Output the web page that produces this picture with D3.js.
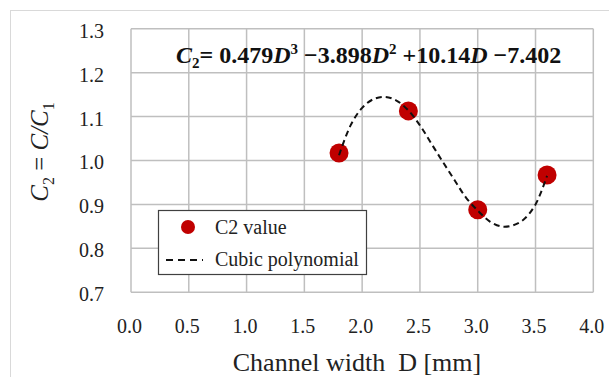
<!DOCTYPE html>
<html>
<head>
<meta charset="utf-8">
<script src="https://cdn.jsdelivr.net/npm/d3@7"></script>
<style>
  body { margin: 0; background: #fff; }
  svg, text { font-family: "Liberation Serif", "DejaVu Serif", serif; }
</style>
</head>
<body>
<svg width="609" height="377"></svg>
<script>
// measured C2 values
var widthD = [1.8, 2.4, 3.0, 3.6]
var c2Values = [1.017, 1.113, 0.888, 0.967]

// dashed fit curve
var fitD = [1.8, 1.9, 2.0, 2.1, 2.2, 2.3, 2.4, 2.5, 2.6, 2.7, 2.8, 2.9, 3.0, 3.1, 3.2, 3.3, 3.4, 3.5, 3.6]
var fitC2 = [1.012, 1.080, 1.120, 1.140, 1.145, 1.136, 1.114, 1.080, 1.038, 0.996, 0.955, 0.915, 0.886, 0.862, 0.850, 0.852, 0.866, 0.900, 0.965]

var xTicks = [0, 0.5, 1.0, 1.5, 2.0, 2.5, 3.0, 3.5, 4.0]
var yTicks = [0.7, 0.8, 0.9, 1.0, 1.1, 1.2, 1.3]
var legendLabels = ["C2 value", "Cubic polynomial"]

var svg = d3.select("svg")

// outer frame
svg.append("rect")
  .attr("x", 10.5).attr("y", 10.5)
  .attr("width", 620).attr("height", 400)
  .attr("fill", "none")
  .attr("stroke", "#d9d9d9")

var x = d3.scaleLinear().domain([0, 4]).range([131, 593.3])
var y = d3.scaleLinear().domain([0.7, 1.3]).range([292.2, 28.8])

// grid
svg.append("g")
  .selectAll("line")
  .data(xTicks)
  .enter()
  .append("line")
    .attr("x1", function(d){ return x(d) })
    .attr("x2", function(d){ return x(d) })
    .attr("y1", y(0.7)).attr("y2", y(1.3))
    .attr("stroke", "#bfbfbf")
    .attr("stroke-width", 1.5)

svg.append("g")
  .selectAll("line")
  .data(yTicks)
  .enter()
  .append("line")
    .attr("x1", x(0)).attr("x2", x(4))
    .attr("y1", function(d){ return y(d) })
    .attr("y2", function(d){ return y(d) })
    .attr("stroke", "#bfbfbf")
    .attr("stroke-width", 1.5)

// axes (labels only)
var yAxis = svg.append("g")
  .attr("transform", "translate(" + x(0) + ",0)")
  .call(d3.axisLeft(y).tickValues(yTicks).tickFormat(d3.format(".1f")).tickSize(0).tickPadding(27))
yAxis.attr("font-family", null).attr("font-size", null)
yAxis.select(".domain").remove()
yAxis.selectAll("text")
  .attr("dy", "0.42em")
  .style("font-size", "20px")
  .attr("fill", "#222")

var xAxis = svg.append("g")
  .attr("transform", "translate(-2," + y(0.7) + ")")
  .call(d3.axisBottom(x).tickValues(xTicks).tickFormat(d3.format(".1f")).tickSize(0).tickPadding(27))
xAxis.attr("font-family", null).attr("font-size", null)
xAxis.select(".domain").remove()
xAxis.selectAll("text")
  .style("font-size", "20px")
  .attr("fill", "#222")

// axis titles
svg.append("text")
  .attr("x", 357)
  .attr("y", 371)
  .attr("text-anchor", "middle")
  .style("font-size", "26px")
  .attr("fill", "#222")
  .text("Channel width\u00a0 D [mm]")

var yTitle = svg.append("text")
  .attr("transform", "translate(48,152) rotate(-90)")
  .attr("text-anchor", "middle")
  .style("font-size", "25px")
  .attr("fill", "#222")
yTitle.append("tspan").style("font-style", "italic").text("C")
yTitle.append("tspan").attr("dy", 6).style("font-size", "16px").text("2")
yTitle.append("tspan").attr("dy", -6).text(" = ")
yTitle.append("tspan").style("font-style", "italic").text("C/C")
yTitle.append("tspan").attr("dy", 6).style("font-size", "16px").text("1")

// fit curve
var line = d3.line()
  .x(function(d){ return x(d[0]) })
  .y(function(d){ return y(d[1]) })
  .curve(d3.curveCatmullRom)

// points
svg.append("g")
  .selectAll("circle")
  .data(d3.zip(widthD, c2Values))
  .enter()
  .append("circle")
    .attr("cx", function(d){ return x(d[0]) })
    .attr("cy", function(d){ return y(d[1]) })
    .attr("r", 9.5)
    .attr("fill", "#c00000")

// curve drawn over the points
svg.append("path")
  .datum(d3.zip(fitD, fitC2))
  .attr("d", line)
  .attr("fill", "none")
  .attr("stroke", "#111")
  .attr("stroke-width", 2)
  .style("stroke-dasharray", "6,4")

// equation
var eq = svg.append("text")
  .attr("x", 176)
  .attr("y", 63)
  .style("font-size", "24px")
  .style("font-weight", "bold")
  .attr("fill", "#111")
eq.append("tspan").style("font-style", "italic").text("C")
eq.append("tspan").attr("dy", 5).style("font-size", "15px").text("2")
eq.append("tspan").attr("dy", -5).text("= 0.479")
eq.append("tspan").style("font-style", "italic").text("D")
eq.append("tspan").attr("dy", -9).style("font-size", "15px").text("3")
eq.append("tspan").attr("dy", 9).text(" \u22123.898")
eq.append("tspan").style("font-style", "italic").text("D")
eq.append("tspan").attr("dy", -9).style("font-size", "15px").text("2")
eq.append("tspan").attr("dy", 9).text(" +10.14")
eq.append("tspan").style("font-style", "italic").text("D")
eq.append("tspan").text(" \u22127.402")

// legend
var legend = svg.append("g")
legend.append("rect")
  .attr("x", 158.5).attr("y", 210.5)
  .attr("width", 208).attr("height", 64)
  .attr("fill", "#fff")
  .attr("stroke", "#404040")
  .attr("stroke-width", 1.2)

legend.append("circle")
  .attr("cx", 188).attr("cy", 227)
  .attr("r", 7)
  .attr("fill", "#c00000")

legend.append("line")
  .attr("x1", 166).attr("x2", 203)
  .attr("y1", 260).attr("y2", 260)
  .attr("stroke", "#111")
  .attr("stroke-width", 2)
  .style("stroke-dasharray", "7,5")

legend.selectAll("text.lab")
  .data(legendLabels)
  .enter()
  .append("text")
    .attr("class", "lab")
    .attr("x", 215)
    .attr("y", function(d, i){ return 234 + i * 32 })
    .style("font-size", "20px")
    .attr("fill", "#222")
    .text(function(d){ return d })
</script>
</body>
</html>
